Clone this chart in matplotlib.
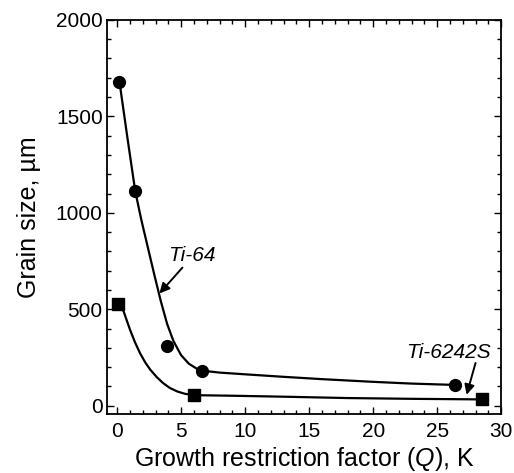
import numpy as np
import matplotlib
matplotlib.use("Agg")
import matplotlib.pyplot as plt
from matplotlib.ticker import MultipleLocator

plt.rcParams["font.family"] = ["Liberation Sans", "DejaVu Sans"]
plt.rcParams["mathtext.fontset"] = "custom"
plt.rcParams["mathtext.rm"] = "Liberation Sans"
plt.rcParams["mathtext.it"] = "Liberation Sans:italic"

ti64_q = [0.18, 1.41, 3.9, 6.65, 26.4]
ti64_size = [1680, 1113, 312, 182, 106]

ti6242_q = [0.1, 6.0, 28.5]
ti6242_size = [529, 55, 33]

# ── Hand-drawn trend curves ───────────────────────────────────────────────────
ti64_curve_q = [0.18, 0.8, 1.41, 1.9, 2.4, 2.9, 3.4, 3.9, 4.4, 5.0, 5.6,
                6.2, 6.65, 8, 10, 13, 16, 20, 23, 26.4]
ti64_curve_size = [1680, 1390, 1113, 960, 820, 680, 545, 425, 335, 262, 218,
                   193, 182, 172, 163, 150, 138, 124, 115, 108]

ti6242_curve_q = [0.1, 0.5, 1.0, 1.4, 1.8, 2.2, 2.6, 3.1, 3.6, 4.1, 4.7,
                  5.3, 6.0, 9, 13, 18, 23, 28.5]
ti6242_curve_size = [529, 490, 395, 328, 271, 224, 186, 148, 117, 93, 74,
                     62, 55, 52, 47, 40, 36, 33]

fig = plt.figure(figsize=(5.14, 4.73), dpi=100)
ax = fig.add_axes([0.208, 0.125, 0.767, 0.833])

ax.plot(ti64_curve_q, ti64_curve_size, color="black", lw=1.6)
ax.plot(ti6242_curve_q, ti6242_curve_size, color="black", lw=1.6)
ax.plot(ti64_q, ti64_size, "o", color="black", ms=8.5)
ax.plot(ti6242_q, ti6242_size, "s", color="black", ms=8.5)

# labels + pointer arrows
arrow = dict(arrowstyle="-|>", color="black", lw=1.4,
             shrinkA=0, shrinkB=0, mutation_scale=15)
ax.text(5.8, 778, "Ti-64", fontsize=15, style="italic",
        ha="center", va="center")
ax.annotate("", xy=(3.3, 582), xytext=(5.1, 716), arrowprops=arrow)
ax.text(25.9, 278, "Ti-6242S", fontsize=15, style="italic",
        ha="center", va="center")
ax.annotate("", xy=(27.3, 57), xytext=(28.0, 222), arrowprops=arrow)

ax.set_xlim(-0.8, 30)
ax.set_ylim(-42, 2000)
ax.xaxis.set_major_locator(MultipleLocator(5))
ax.xaxis.set_minor_locator(MultipleLocator(1))
ax.yaxis.set_major_locator(MultipleLocator(500))
ax.yaxis.set_minor_locator(MultipleLocator(100))

ax.tick_params(which="both", direction="in", top=True, right=True,
               labelsize=15, width=1.0)
ax.tick_params(which="major", length=5, pad=6)
ax.tick_params(axis="y", which="major", pad=3)
ax.tick_params(which="minor", length=3)
for s in ax.spines.values():
    s.set_linewidth(1.3)

ax.set_xlabel(r"Growth restriction factor ($\mathit{Q}$), K", fontsize=18,
              labelpad=3)
ax.set_ylabel("Grain size, µm", fontsize=18, labelpad=11)

fig.savefig("out.png", dpi=100)
